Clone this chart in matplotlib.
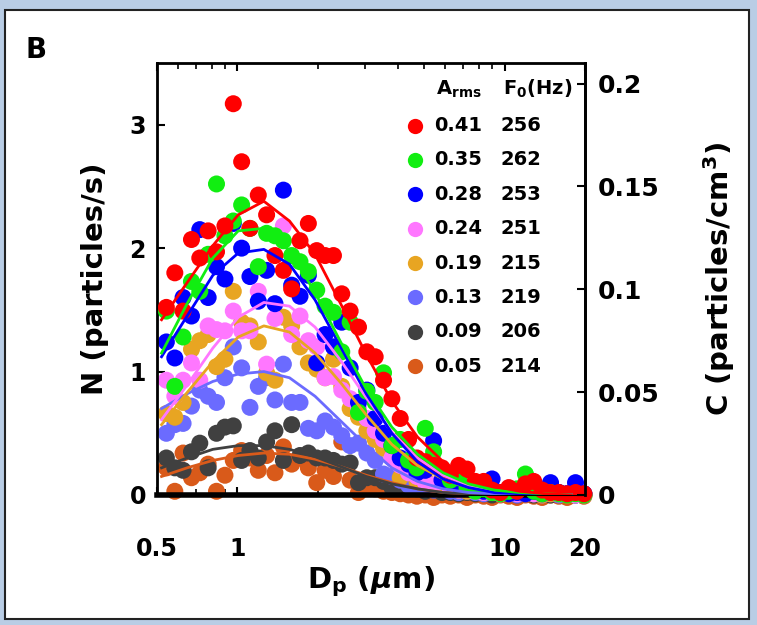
import matplotlib
matplotlib.use("Agg")
import matplotlib.pyplot as plt
from matplotlib.patches import Rectangle
from matplotlib.ticker import NullFormatter, LogLocator

plt.rcParams['font.family'] = 'DejaVu Sans'
plt.rcParams['font.weight'] = 'bold'
plt.rcParams['mathtext.default'] = 'regular'

# APS channel midpoints (um)
dp = [0.542, 0.583, 0.626, 0.673, 0.723, 0.777, 0.835, 0.898, 0.965, 1.037,
      1.114, 1.197, 1.286, 1.382, 1.486, 1.596, 1.715, 1.843, 1.981, 2.129,
      2.288, 2.458, 2.642, 2.839, 3.051, 3.278, 3.523, 3.786, 4.068, 4.371,
      4.698, 5.048, 5.425, 5.829, 6.264, 6.732, 7.234, 7.774, 8.354, 8.977,
      9.647, 10.37, 11.14, 11.97, 12.86, 13.82, 14.86, 15.96, 17.15, 18.43, 19.81]

n_041 = [1.52, 1.80, 1.49, 2.07, 1.92, 2.14, 1.97, 2.18, 3.17, 2.70,
         2.16, 2.43, 2.27, 1.94, 1.82, 1.67, 2.06, 2.20, 1.98, 1.94,
         1.94, 1.63, 1.49, 1.36, 1.16, 1.12, 0.93, 0.78, 0.62, 0.45,
         0.30, 0.27, 0.24, 0.22, 0.16, 0.24, 0.21, 0.11, 0.11, 0.04,
         0.02, 0.06, 0.03, 0.09, 0.11, 0.04, 0.02, 0.02, 0.01, 0.02, 0.01]
n_035 = [1.49, 0.88, 1.28, 1.73, 1.65, 1.95, 2.52, 2.10, 2.22, 2.35,
         2.16, 1.85, 2.12, 2.10, 2.06, 1.94, 1.89, 1.81, 1.66, 1.53,
         1.48, 1.16, 1.40, 0.67, 0.84, 0.75, 0.99, 0.40, 0.45, 0.28,
         0.22, 0.54, 0.35, 0.20, 0.12, 0.14, 0.06, 0.03, 0.05, 0.02,
         0.01, 0.03, 0.05, 0.17, 0.03, 0.01, 0.02, 0.01, 0.00, 0.01, 0.00]
n_028 = [1.24, 1.11, 1.60, 1.45, 2.15, 1.60, 1.85, 1.75, 2.20, 2.00,
         1.77, 1.57, 1.82, 1.55, 2.47, 1.70, 1.61, 1.78, 1.07, 1.30,
         1.20, 1.40, 1.03, 0.75, 0.85, 0.62, 0.50, 0.40, 0.30, 0.25,
         0.18, 0.20, 0.44, 0.12, 0.10, 0.08, 0.06, 0.05, 0.03, 0.13,
         0.02, 0.01, 0.02, 0.01, 0.03, 0.01, 0.10, 0.02, 0.01, 0.10, 0.01]
n_024 = [0.93, 0.80, 0.93, 1.07, 0.93, 1.37, 1.34, 1.33, 1.49, 1.33,
         1.33, 1.65, 1.06, 1.43, 2.18, 1.30, 1.45, 1.25, 1.20, 0.95,
         0.96, 0.85, 0.78, 0.70, 0.62, 0.52, 0.45, 0.30, 0.24, 0.18,
         0.15, 0.10, 0.08, 0.12, 0.05, 0.04, 0.05, 0.03, 0.02, 0.03,
         0.01, 0.02, 0.01, 0.03, 0.01, 0.01, 0.02, 0.01, 0.01, 0.00, 0.01]
n_019 = [0.66, 0.63, 0.75, 1.18, 1.25, 1.30, 1.04, 1.10, 1.65, 1.40,
         1.37, 1.24, 0.99, 0.93, 1.44, 1.37, 1.20, 1.07, 1.02, 0.95,
         1.10, 0.88, 0.70, 0.63, 0.52, 0.45, 0.38, 0.30, 0.14, 0.20,
         0.11, 0.12, 0.08, 0.06, 0.05, 0.04, 0.03, 0.04, 0.02, 0.02,
         0.01, 0.01, 0.02, 0.01, 0.01, 0.00, 0.01, 0.01, 0.00, 0.01, 0.00]
n_013 = [0.50, 0.57, 0.58, 0.72, 0.85, 0.80, 0.75, 0.95, 1.20, 1.03,
         0.71, 0.88, 0.95, 0.77, 1.06, 0.75, 0.75, 0.54, 0.52, 0.60,
         0.55, 0.48, 0.40, 0.42, 0.34, 0.28, 0.17, 0.15, 0.12, 0.08,
         0.07, 0.05, 0.04, 0.05, 0.03, 0.02, 0.03, 0.02, 0.01, 0.02,
         0.01, 0.01, 0.00, 0.01, 0.01, 0.00, 0.01, 0.00, 0.01, 0.00, 0.00]
n_009 = [0.30, 0.22, 0.20, 0.35, 0.42, 0.22, 0.50, 0.55, 0.56, 0.28,
         0.36, 0.30, 0.43, 0.52, 0.28, 0.57, 0.32, 0.34, 0.30, 0.30,
         0.28, 0.25, 0.26, 0.10, 0.14, 0.14, 0.11, 0.06, 0.08, 0.05,
         0.05, 0.03, 0.04, 0.02, 0.02, 0.01, 0.02, 0.01, 0.01, 0.00,
         0.01, 0.01, 0.00, 0.01, 0.00, 0.01, 0.00, 0.02, 0.01, 0.00, 0.01]
n_005 = [0.22, 0.03, 0.34, 0.14, 0.18, 0.25, 0.03, 0.16, 0.28, 0.36,
         0.30, 0.20, 0.32, 0.18, 0.39, 0.25, 0.30, 0.22, 0.10, 0.20,
         0.15, 0.43, 0.12, 0.02, 0.08, 0.05, 0.03, 0.02, 0.01, 0.00,
         -0.01, 0.00, -0.02, 0.00, -0.01, 0.00, -0.02, 0.00, -0.01, -0.02,
         0.00, -0.01, -0.02, 0.00, -0.01, -0.02, 0.00, -0.01, -0.02, 0.00, -0.01]

# fitted curves, read at coarser diameters
dp_fit = [0.52, 0.648, 0.809, 1.007, 1.256, 1.566, 1.953, 2.434, 3.034,
          3.784, 4.72, 5.885, 7.332, 9.142, 11.4, 14.21, 17.74]
fit_041 = [1.42, 1.72, 2.02, 2.27, 2.38, 2.22, 1.95, 1.55, 1.14, 0.76, 0.47, 0.27, 0.14, 0.07, 0.03, 0.01, 0.0]
fit_035 = [1.15, 1.55, 1.92, 2.14, 2.16, 1.98, 1.64, 1.24, 0.86, 0.55, 0.33, 0.18, 0.09, 0.04, 0.02, 0.01, 0.0]
fit_028 = [1.12, 1.45, 1.78, 1.96, 1.99, 1.87, 1.58, 1.20, 0.82, 0.50, 0.27, 0.13, 0.06, 0.02, 0.01, 0.0, 0.0]
fit_024 = [0.61, 0.89, 1.19, 1.44, 1.56, 1.53, 1.36, 1.09, 0.79, 0.51, 0.30, 0.16, 0.08, 0.03, 0.01, 0.0, 0.0]
fit_019 = [0.57, 0.83, 1.08, 1.28, 1.37, 1.32, 1.15, 0.91, 0.65, 0.41, 0.24, 0.13, 0.06, 0.03, 0.01, 0.0, 0.0]
fit_013 = [0.70, 0.82, 0.92, 0.98, 1.00, 0.95, 0.80, 0.60, 0.40, 0.22, 0.11, 0.05, 0.02, 0.01, 0.0, 0.0, 0.0]
fit_009 = [0.22, 0.30, 0.37, 0.40, 0.40, 0.37, 0.31, 0.23, 0.15, 0.09, 0.05, 0.02, 0.01, 0.0, 0.0, 0.0, 0.0]
fit_005 = [0.15, 0.22, 0.28, 0.32, 0.34, 0.33, 0.29, 0.23, 0.16, 0.10, 0.05, 0.02, 0.01, 0.0, 0.0, 0.0, 0.0]

a_rms = ['0.41', '0.35', '0.28', '0.24', '0.19', '0.13', '0.09', '0.05']
f0_hz = ['256', '262', '253', '251', '215', '219', '206', '214']
colors = ['#ff0000', '#11ee11', '#0000ff', '#ff77ff', '#e8a522', '#6b6bff', '#404040', '#d95a1a']
points = [n_041, n_035, n_028, n_024, n_019, n_013, n_009, n_005]
fits = [fit_041, fit_035, fit_028, fit_024, fit_019, fit_013, fit_009, fit_005]

fig = plt.figure(figsize=(7.57, 6.25), dpi=100, facecolor='#b9cde5')
fig.patches.append(Rectangle((5 / 757, 6 / 625), 744 / 757, 609 / 625, transform=fig.transFigure,
                             facecolor='white', edgecolor='#222222', lw=1.5, zorder=-5))

ax = fig.add_axes([157 / 757, 130 / 625, 428 / 757, 432 / 625])
ax.set_xscale('log')

# lowest amplitude first so red ends on top
for i in reversed(range(len(points))):
    ax.scatter(dp, points[i], s=150, color=colors[i], edgecolors='none', zorder=2 + (7 - i) * 0.1,
               clip_on=False)
for i in reversed(range(len(fits))):
    ax.plot(dp_fit, fits[i], color=colors[i], lw=2.0, zorder=4)

ax.set_xlim(0.5, 20)
ax.set_ylim(0, 3.5)
ax.set_xticks([0.5, 1, 10, 20])
ax.set_xticklabels(['0.5', '1', '10', '20'])
ax.xaxis.set_minor_locator(LogLocator(base=10, subs=range(2, 10)))
ax.xaxis.set_minor_formatter(NullFormatter())
ax.set_yticks([0, 1, 2, 3])
ax.tick_params(axis='both', which='major', direction='in', length=6, width=1.5, labelsize=17,
               top=True)
ax.tick_params(axis='x', which='major', pad=30)
ax.tick_params(axis='y', which='major', pad=8)
ax.tick_params(axis='x', which='minor', direction='in', length=4, width=1.2, top=True)
for side in ['left', 'top', 'right']:
    ax.spines[side].set_linewidth(2)
ax.spines['bottom'].set_linewidth(4)

ax.set_xlabel('D$_\\mathbf{p}$ ($\\mathit{\\mu}$m)', fontsize=21, fontweight='bold', labelpad=3)
ax.set_ylabel('N (particles/s)', fontsize=21, fontweight='bold', labelpad=15)

ax2 = ax.twinx()
ax2.set_ylim(0, 0.21)
ax2.set_yticks([0, 0.05, 0.1, 0.15, 0.2])
ax2.set_yticklabels(['0', '0.05', '0.1', '0.15', '0.2'])
ax2.tick_params(axis='y', direction='in', length=6, width=1.5, labelsize=18, pad=9)
ax2.spines['right'].set_linewidth(2)
ax2.set_ylabel('C (particles/cm$^\\mathbf{3}$)', fontsize=21, fontweight='bold', labelpad=30)

# legend drawn as a small table
lx, ly, dy = 0.603, 0.855, 0.0795
ax.text(lx + 0.05, 0.94, 'A$_{\\mathrm{rms}}$', transform=ax.transAxes, fontsize=14,
        fontweight='bold', va='center', ha='left')
ax.text(lx + 0.205, 0.94, 'F$_{\\mathbf{0}}$(Hz)', transform=ax.transAxes, fontsize=14,
        fontweight='bold', va='center', ha='left')
for i in range(len(a_rms)):
    y = ly - i * dy
    ax.plot([lx], [y], 'o', ms=11, color=colors[i], mec='none', transform=ax.transAxes, clip_on=False)
    ax.text(lx + 0.045, y, a_rms[i], transform=ax.transAxes, fontsize=14, fontweight='bold',
            va='center', ha='left')
    ax.text(lx + 0.2, y, f0_hz[i], transform=ax.transAxes, fontsize=14, fontweight='bold',
            va='center', ha='left')

fig.text(25 / 757, 1 - 50 / 625, 'B', fontsize=20, fontweight='bold', va='center', ha='left')

fig.savefig('out.png', dpi=100, facecolor=fig.get_facecolor())
